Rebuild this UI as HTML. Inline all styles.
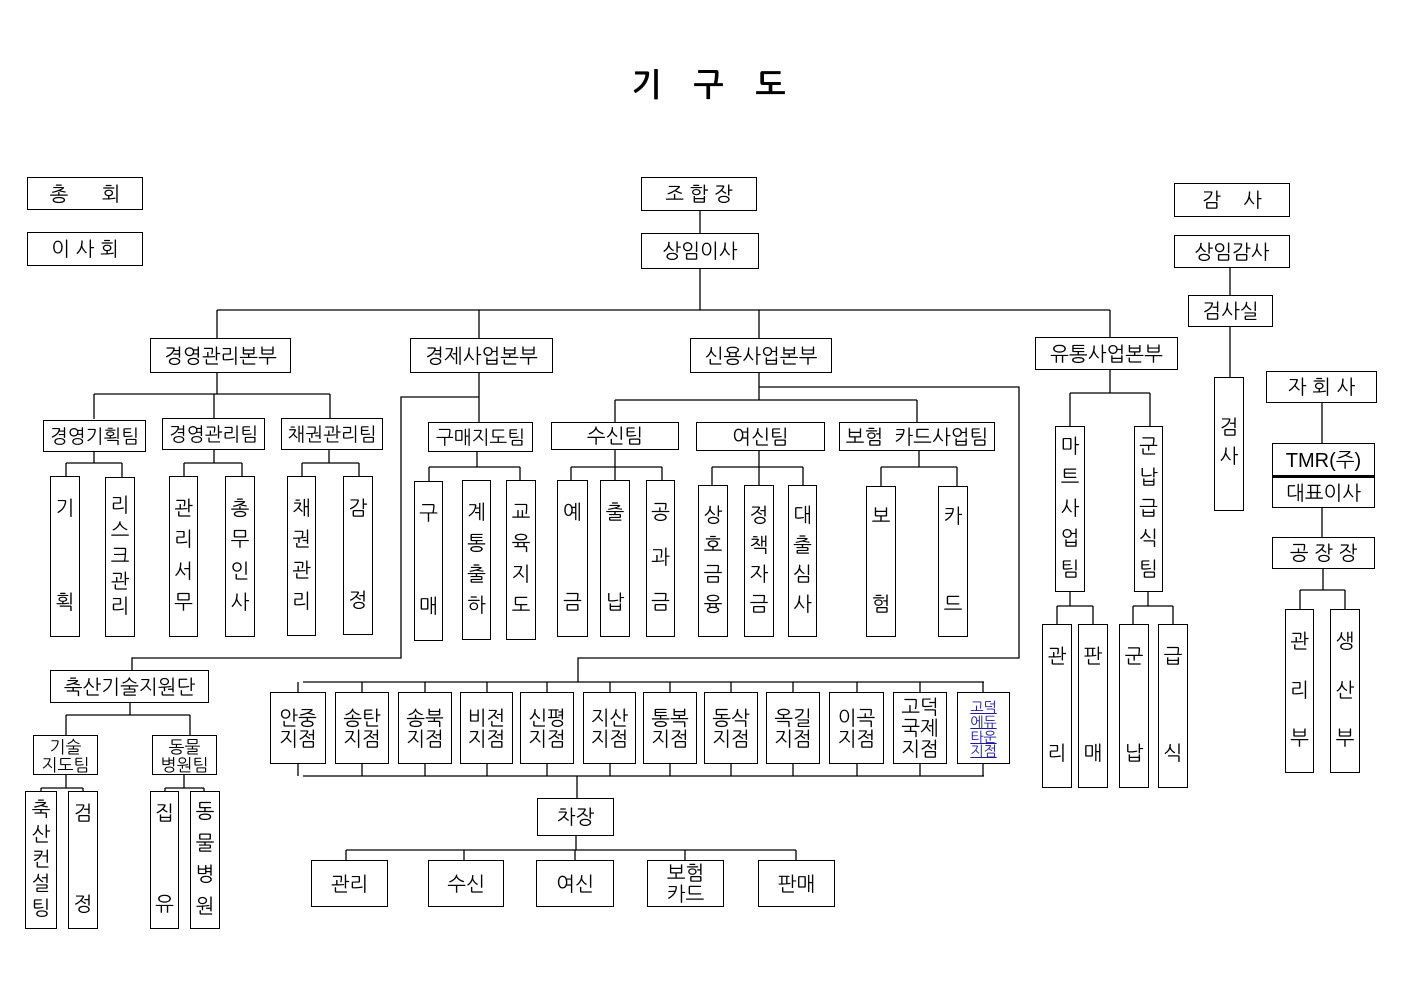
<!DOCTYPE html>
<html><head><meta charset="utf-8">
<style>
html,body{margin:0;padding:0;background:#fff;}
#c{position:relative;width:1403px;height:992px;overflow:hidden;background:#fff;font-family:"Liberation Sans","NanumGothic","Noto Sans CJK KR",sans-serif;color:#000;}
.b{position:absolute;box-sizing:border-box;border:1.3px solid #000;background:#fff;display:flex;align-items:center;justify-content:center;white-space:nowrap;line-height:1.05;text-align:center;padding-top:3px;}
.v{flex-direction:column;justify-content:space-between;padding:22px 0 22px 0;}
svg{position:absolute;left:0;top:0;}
.t{position:absolute;left:0;width:1403px;top:67px;text-align:center;font-size:32px;font-weight:bold;letter-spacing:32px;padding-left:46px;box-sizing:border-box;}
</style></head><body>
<div id="c">
<div class="t">기구도</div>
<svg id="s" width="1403" height="992"></svg>
</div>
<script>
var c=document.getElementById('c'),s=document.getElementById('s');
function B(x1,y1,x2,y2,t,fs,opt){var d=document.createElement('div');d.className='b'+(opt&&opt.v?' v':'');
d.style.left=x1+'px';d.style.top=y1+'px';d.style.width=(x2-x1)+'px';d.style.height=(y2-y1)+'px';d.style.fontSize=(fs||19)+'px';
if(opt&&opt.v){t.split('').forEach(function(ch){var sp=document.createElement('span');sp.textContent=ch;d.appendChild(sp);});
if(opt.pad!=null){d.style.paddingTop=opt.pad+'px';d.style.paddingBottom=opt.pad+'px';}
if(opt.start){d.style.justifyContent='flex-start';d.style.gap=opt.start+'px';}}
else d.innerHTML=t;
if(opt&&opt.st)Object.assign(d.style,opt.st);c.appendChild(d);}
function L(p){var e=document.createElementNS('http://www.w3.org/2000/svg','polyline');e.setAttribute('points',p);e.setAttribute('fill','none');e.setAttribute('stroke','#000');e.setAttribute('stroke-width','1.3');s.appendChild(e);}
function T(px,py,by,xs,cy){L(px+','+py+' '+px+','+by);L(Math.min.apply(0,xs)+','+by+' '+Math.max.apply(0,xs)+','+by);xs.forEach(function(x){L(x+','+by+' '+x+','+cy);});}

B(27,177,143,210,'총&nbsp;&nbsp;&nbsp;&nbsp;&nbsp;&nbsp;회',20);
B(27,232,143,266,'이&nbsp;사&nbsp;회',20);
B(641,177,757,211,'조&nbsp;합&nbsp;장',20);
B(641,233,759,269,'상임이사',20);
L('700,211 700,233');
B(1174,183,1290,217,'감&nbsp;&nbsp;&nbsp;&nbsp;사',20);
B(1174,235,1290,268,'상임감사',20);
B(1188,295,1273,327,'검사실',20);
L('1230,268 1230,295');L('1230,327 1230,377');
B(1214,377,1244,511,'검사',20,{v:1,pad:40,start:8});
B(1266,371,1377,403,'자&nbsp;회&nbsp;사',20);
B(1272,443,1375,476,'TMR(주)',20);
B(1272,476,1375,508,'대표이사',20,{st:{borderTopWidth:'2.5px'}});
L('1322,403 1322,443');L('1322,508 1322,537');
B(1272,537,1375,569,'공&nbsp;장&nbsp;장',20);
T(1323,569,590,[1300,1345],609);
B(1285,609,1314,773,'관리부',20,{v:1,pad:22});
B(1330,609,1360,773,'생산부',20,{v:1,pad:22});

T(700,269,310,[217,479,759,1110],338);
B(150,338,291,373,'경영관리본부',20);
B(410,338,553,373,'경제사업본부',20);
B(690,338,832,373,'신용사업본부',20);
B(1035,337,1178,370,'유통사업본부',20);

T(217,373,394,[94,214,330],419);
B(43,420,146,452,'경영기획팀',19);
B(162,418,265,450,'경영관리팀',19);
B(281,418,383,450,'채권관리팀',19);
T(94,452,463,[66,122],477);
T(214,450,463,[184,242],476);
T(329,450,463,[302,359],476);
B(50,476,80,637,'기획',20,{v:1,pad:22});
B(105,477,135,637,'리스크관리',20,{v:1,pad:18});
B(169,476,198,637,'관리서무',20,{v:1,pad:22});
B(225,476,255,637,'총무인사',20,{v:1,pad:22});
B(287,476,316,636,'채권관리',20,{v:1,pad:22});
B(343,476,373,635,'감정',20,{v:1,pad:22});

L('479,373 479,422');
L('479,397 401,397 401,658 132,658 132,670');
B(428,422,533,452,'구매지도팀',19);
T(477,452,467,[429,520],481);
B(414,481,443,641,'구매',20,{v:1,pad:22});
B(462,480,491,640,'계통출하',20,{v:1,pad:22});
B(506,480,536,640,'교육지도',20,{v:1,pad:22});

T(759,373,400,[615,917],422);
L('759,387 1019,387 1019,658 578,658 578,682');
B(551,422,679,450,'수신팀',20);
B(696,422,825,451,'여신팀',20);
B(839,422,995,451,'보험&nbsp;&nbsp;카드사업팀',20);
T(615,450,467,[571,615,662],480);
T(759,451,467,[712,759,803],485);
T(919,451,467,[881,957],486);
B(557,480,588,637,'예금',20,{v:1,pad:22});
B(600,480,630,637,'출납',20,{v:1,pad:22});
B(646,480,675,637,'공과금',20,{v:1,pad:22});
B(698,485,728,637,'상호금융',20,{v:1,pad:20});
B(744,485,774,637,'정책자금',20,{v:1,pad:20});
B(788,485,817,637,'대출심사',20,{v:1,pad:20});
B(866,486,896,637,'보험',20,{v:1,pad:20});
B(938,486,968,637,'카드',20,{v:1,pad:20});

var br=[[270,326,'안중<br>지점'],[335,389,'송탄<br>지점'],[398,452,'송북<br>지점'],[460,513,'비전<br>지점'],[520,574,'신평<br>지점'],[583,636,'지산<br>지점'],[643,697,'통복<br>지점'],[704,758,'동삭<br>지점'],[766,820,'옥길<br>지점'],[829,884,'이곡<br>지점'],[893,947,'고덕<br>국제<br>지점']];
var xs=[];
br.forEach(function(b){B(b[0],692,b[1],764,b[2],20);xs.push(Math.round((b[0]+b[1])/2));});
B(957,692,1010,764,'<u>고덕<br>에듀<br>타운<br>지점</u>',14,{st:{color:'#1a1a9a'}});
xs.push(983);
L('303,682 984,682');L('303,776 984,776');
xs.forEach(function(x){L(x+',682 '+x+',692');L(x+',764 '+x+',776');});
L('577,776 577,798');
B(537,798,614,836,'차장',20);
T(576,836,850,[346,464,575,685,796],860);
B(311,860,388,907,'관리',20);
B(428,860,504,907,'수신',20);
B(536,860,614,907,'여신',20);
B(647,860,724,907,'보험<br>카드',20);
B(758,860,835,907,'판매',20);

B(50,670,209,703,'축산기술지원단',20);
T(130,703,715,[66,190],735);
B(33,735,98,775,'기술<br>지도팀',17);
B(152,735,217,775,'동물<br>병원팀',17);
T(66,775,788,[41,83],791);
T(184,775,788,[165,204],791);
B(25,791,57,929,'축산컨설팅',20,{v:1,pad:8});
B(68,791,98,929,'검정',20,{v:1,pad:12});
B(150,791,179,929,'집유',20,{v:1,pad:12});
B(190,791,220,929,'동물병원',20,{v:1,pad:10});

T(1110,370,393,[1070,1150],426);
B(1055,426,1085,592,'마트사업팀',20,{v:1,pad:10});
B(1134,426,1163,592,'군납급식팀',20,{v:1,pad:10});
T(1070,592,606,[1057,1093],624);
T(1148,592,606,[1133,1173],624);
B(1042,624,1072,788,'관리',20,{v:1,pad:22});
B(1078,624,1108,788,'판매',20,{v:1,pad:22});
B(1119,624,1149,788,'군납',20,{v:1,pad:22});
B(1158,624,1188,788,'급식',20,{v:1,pad:22});
</script>
</body></html>
